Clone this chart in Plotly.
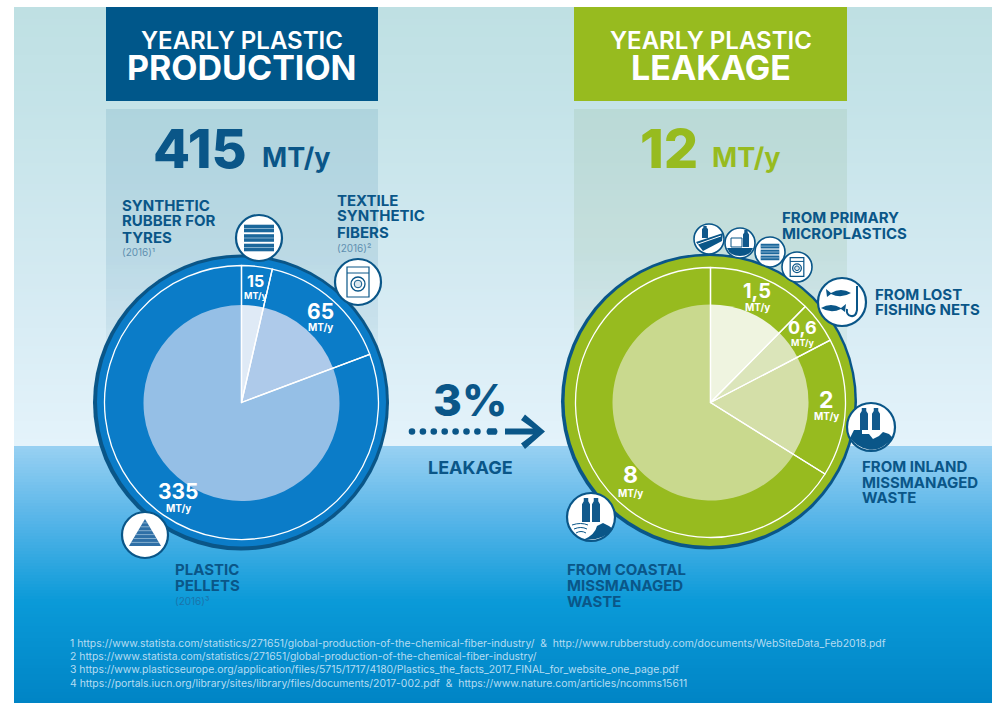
import re
import plotly.graph_objects as go

W, H = 992, 703

# ---- data ----
production_categories = ["Synthetic rubber for tyres", "Textile synthetic fibers", "Plastic pellets"]
production_values = [15, 65, 335]
production_labels = ["15", "65", "335"]
production_colors = ["#dfeaf6", "#aecaea", "#95bfe6"]

leakage_categories = ["Primary microplastics", "Lost fishing nets", "Inland missmanaged waste", "Coastal missmanaged waste"]
leakage_values = [1.5, 0.6, 2, 8]
leakage_labels = ["1,5", "0,6", "2", "8"]
leakage_colors = ["#eff4e0", "#dbe5ba", "#d4dfa8", "#c9d98e"]

footnotes = [
    "1 https://www.statista.com/statistics/271651/global-production-of-the-chemical-fiber-industry/  &  http://www.rubberstudy.com/documents/WebSiteData_Feb2018.pdf",
    "2 https://www.statista.com/statistics/271651/global-production-of-the-chemical-fiber-industry/",
    "3 https://www.plasticseurope.org/application/files/5715/1717/4180/Plastics_the_facts_2017_FINAL_for_website_one_page.pdf",
    "4 https://portals.iucn.org/library/sites/library/files/documents/2017-002.pdf  &  https://www.nature.com/articles/ncomms15611",
]

# ---- style ----
DARK = "#0a5688"
BLUE = "#0b7cc8"
GREEN = "#97bb1f"
FONT = "Inter, Roboto, sans-serif"


def X(p):
    return p / W


def Y(p):
    return 1 - p / H


shapes = []
annots = []


def rect(x0, y0, x1, y1, color, layer="below"):
    shapes.append(dict(type="rect", xref="paper", yref="paper", x0=X(x0), x1=X(x1), y0=Y(y1), y1=Y(y0),
                       fillcolor=color, line=dict(width=0), layer=layer))


def circle(cx, cy, r, fill, line=None, lw=0, layer="above"):
    shapes.append(dict(type="circle", xref="paper", yref="paper", x0=X(cx - r), x1=X(cx + r), y0=Y(cy + r), y1=Y(cy - r),
                       fillcolor=fill, line=dict(width=lw, color=line or fill), layer=layer))


def path(d, fill="rgba(0,0,0,0)", line=None, lw=0, layer="above"):
    toks = re.findall(r"[A-Za-z]|-?[\d.]+", d)
    out, i = [], 0
    while i < len(toks):
        if toks[i].isalpha():
            out.append(toks[i])
            i += 1
        else:
            out.append(f"{X(float(toks[i])):.5f},{Y(float(toks[i + 1])):.5f}")
            i += 2
    shapes.append(dict(type="path", xref="paper", yref="paper", path=" ".join(out), fillcolor=fill,
                       line=dict(width=lw, color=line or "rgba(0,0,0,0)"), layer=layer))


def text(s, x, y, size, color=DARK, anchor="left", weight=700):
    # annotations carry about 2px of inner padding on their left edge
    xx = x - 2 if anchor == "left" else x
    annots.append(dict(text=s, x=X(xx), y=Y(y), xref="paper", yref="paper", xanchor=anchor, yanchor="middle",
                       showarrow=False, font=dict(family=FONT, size=size, color=color, weight=weight),
                       align=anchor))


def lerp_hex(stops, y):
    for (y0, c0), (y1, c1) in zip(stops, stops[1:]):
        if y0 <= y <= y1:
            t = (y - y0) / (y1 - y0)
            a = [int(c0[i:i + 2], 16) for i in (1, 3, 5)]
            b = [int(c1[i:i + 2], 16) for i in (1, 3, 5)]
            return "#" + "".join(f"{round(p + (q - p) * t):02x}" for p, q in zip(a, b))
    return stops[-1][1]


# ---- backgrounds ----
upper = [(7, "#bfe0e3"), (100, "#c4e3e8"), (300, "#d6ebf3"), (446, "#e4f3fb")]
lower = [(446, "#97d0f2"), (520, "#55b4e8"), (600, "#0a9ad8"), (703, "#0084c5")]
for y in range(7, 446, 3):
    rect(14, y, W, min(y + 3, 446), lerp_hex(upper, y))
for y in range(446, 703, 3):
    rect(14, y, W, min(y + 3, 703), lerp_hex(lower, y))

# fading panels
for y in range(109, 440, 4):
    a = 0.11 * (1 - max(0, (y - 250)) / 190)
    rect(106, y, 378, y + 4, f"rgba(0,87,138,{a:.3f})")
    rect(574, y, 847, y + 4, f"rgba(90,140,70,{a * 0.95:.3f})")

rect(106, 7, 378, 101, "#00578a")
rect(574, 7, 847, 101, GREEN)

# pie bases
circle(241, 402.5, 148, DARK, layer="below")
circle(241.5, 402, 144.5, BLUE, layer="below")
circle(709, 401.5, 148, DARK, layer="below")
circle(709.5, 401, 145, GREEN, layer="below")


def dom(cx, cy, r):
    return dict(x=[X(cx - r), X(cx + r)], y=[Y(cy + r), Y(cy - r)])


def pie(name, labels, values, colors, cx, cy, r, lw):
    return go.Pie(name=name, labels=labels, values=values, sort=False, direction="clockwise", rotation=0,
                  domain=dom(cx, cy, r), marker=dict(colors=colors, line=dict(color="#ffffff", width=lw)),
                  textinfo="none", hoverinfo="label+value", showlegend=False)


fig = go.Figure()
fig.add_trace(pie("production inner", production_categories, production_values, production_colors, 241.5, 403, 98, 0))
fig.add_trace(pie("production outline", production_categories, production_values, ["rgba(0,0,0,0)"] * 3, 241.5, 402.5, 137, 1.3))
fig.add_trace(pie("leakage inner", leakage_categories, leakage_values, leakage_colors, 710.5, 402.5, 98, 0))
fig.add_trace(pie("leakage outline", leakage_categories, leakage_values, ["rgba(0,0,0,0)"] * 4, 710.5, 402.5, 135, 1.3))


# ---- icons ----
def ring(cx, cy, r, lw=2.2):
    circle(cx, cy, r, "#ffffff", DARK, lw)


def rubber(cx, cy, s=1.0):
    for k in (-1, 0, 1):
        yy = cy + k * 9.5 * s
        path(f"M {cx - 15 * s} {yy - 3.8 * s} L {cx + 15 * s} {yy - 3.8 * s} L {cx + 15 * s} {yy + 3.8 * s} L {cx - 15 * s} {yy + 3.8 * s} Z", fill="#1b679b")
        path(f"M {cx - 15 * s} {yy} L {cx + 15 * s} {yy}", line="#9fc3dc", lw=0.8)


def washer(cx, cy, s=1.0):
    path(f"M {cx - 11 * s} {cy - 15 * s} L {cx + 11 * s} {cy - 15 * s} L {cx + 11 * s} {cy + 15 * s} L {cx - 11 * s} {cy + 15 * s} Z",
         line=DARK, lw=1.2)
    path(f"M {cx - 11 * s} {cy - 9 * s} L {cx + 11 * s} {cy - 9 * s}", line=DARK, lw=1)
    circle(cx, cy + 2 * s, 7 * s, "#ffffff", DARK, 1.3)
    circle(cx, cy + 2 * s, 3.8 * s, "#dbe8f0", DARK, 1)


def pellets(cx, cy):
    path(f"M {cx} {cy - 16} L {cx + 16} {cy + 11} L {cx - 16} {cy + 11} Z", fill="#2f6fa6")
    for k in range(1, 7):
        yy = cy - 16 + k * 3.9
        hw = (yy - cy + 16) * 16 / 27
        path(f"M {cx - hw} {yy} L {cx + hw} {yy}", line="#a9c8df", lw=0.7)


def bottle(cx, top, w, h):
    n = w * 0.28
    path(f"M {cx - n} {top} L {cx + n} {top} L {cx + n} {top + h * 0.14} L {cx + w / 2} {top + h * 0.26} "
         f"L {cx + w / 2} {top + h} L {cx - w / 2} {top + h} L {cx - w / 2} {top + h * 0.26} L {cx - n} {top + h * 0.14} Z", fill="#12598c")


def coastal(cx, cy):
    bottle(cx - 5, cy - 19, 8, 24)
    bottle(cx + 5, cy - 19, 8, 24)
    path(f"M {cx - 8} {cy + 23} Q {cx + 4} {cy + 18} {cx + 6} {cy + 9} L {cx + 12} {cy + 6} L {cx + 18} {cy + 9} "
         f"L {cx + 22} {cy + 12} Q {cx + 12} {cy + 24} {cx - 8} {cy + 23} Z", fill=DARK)
    for k, dy in enumerate((8, 12, 16)):
        path(f"M {cx - 19 + k * 2} {cy + dy} Q {cx - 10} {cy + dy - 3} {cx - 3 - k} {cy + dy}", line=DARK, lw=1)


def inland(cx, cy):
    bottle(cx - 7, cy - 19, 8, 22)
    bottle(cx + 5, cy - 19, 8, 22)
    path(f"M {cx - 21} {cy + 11} L {cx - 17} {cy + 3} L {cx - 9} {cy + 3} L {cx - 9} {cy + 7} L {cx - 2} {cy + 7} "
         f"L {cx + 2} {cy + 12} L {cx + 8} {cy + 9} L {cx + 12} {cy + 5} L {cx + 18} {cy + 7} L {cx + 22} {cy + 11} "
         f"Q {cx + 8} {cy + 26} {cx - 4} {cy + 22} Q {cx - 14} {cy + 20} {cx - 21} {cy + 11} Z", fill=DARK)


def fish(cx, cy, flip=1):
    f = flip
    path(f"M {cx - 12 * f} {cy} Q {cx - 2 * f} {cy - 6} {cx + 8 * f} {cy} L {cx + 13 * f} {cy - 4} L {cx + 12 * f} {cy + 4} "
         f"L {cx + 8 * f} {cy + 1} Q {cx - 2 * f} {cy + 6} {cx - 12 * f} {cy} Z", fill=DARK)


def fishing(cx, cy):
    fish(cx - 3, cy - 9, -1)
    fish(cx - 9, cy + 6, 1)
    path(f"M {cx + 15} {cy - 16} L {cx + 15} {cy + 8} Q {cx + 14} {cy + 15} {cx + 9} {cy + 14} Q {cx + 4} {cy + 13} {cx + 5} {cy + 7}",
         line=DARK, lw=2)


def road(cx, cy):
    path(f"M {cx - 13} {cy + 3} L {cx + 14} {cy - 6} L {cx + 13} {cy + 2} L {cx - 6} {cy + 12} Z", fill=DARK)
    path(f"M {cx - 11} {cy + 5} L {cx + 12} {cy - 3}", line="#ffffff", lw=1)
    bottle(cx - 4, cy - 13, 6, 12)


def ship(cx, cy):
    path(f"M {cx - 13} {cy + 5} L {cx + 13} {cy + 5} Q {cx + 10} {cy + 13} {cx} {cy + 13} Q {cx - 10} {cy + 13} {cx - 13} {cy + 5} Z", fill=DARK)
    path(f"M {cx - 9} {cy - 5} L {cx + 2} {cy - 5} L {cx + 2} {cy + 4} L {cx - 9} {cy + 4} Z", line=DARK, lw=1)
    bottle(cx + 6, cy - 13, 6, 17)


ring(259, 238, 23)
rubber(259, 238)
ring(358, 282, 23)
washer(358, 282)
ring(145, 535, 23)
pellets(145, 535)

ring(709, 239, 15, 1.6)
road(709, 239)
ring(740, 243, 15, 1.6)
ship(740, 243)
ring(770, 252, 15, 1.6)
rubber(770, 252, 0.62)
ring(797, 267, 15, 1.6)
washer(797, 267, 0.62)
ring(842, 302, 24)
fishing(842, 302)
ring(871, 427, 24)
inland(871, 427)
ring(591, 517, 24)
coastal(591, 517)

# ---- arrow ----
for i in range(7):
    circle(412 + i * 10.9, 431.5, 3.3, DARK)
path("M 488 428.2 L 496 428.2 Q 499 431.5 496 434.8 L 488 434.8 Q 485 431.5 488 428.2 Z", fill=DARK)
path("M 505 428.5 L 533 428.5 L 521 420 L 525 414.5 L 545 431.5 L 525 449 L 521 443.5 L 533 434.5 L 505 434.5 Z", fill=DARK)

# ---- text ----
text("YEARLY PLASTIC", 241.5, 41, 24, "#ffffff", "center", 600)
text("PRODUCTION", 241.5, 67, 34, "#ffffff", "center")
text("YEARLY PLASTIC", 710.5, 40, 24, "#ffffff", "center", 600)
text("LEAKAGE", 710.5, 67, 34, "#ffffff", "center")

text("415", 200, 148, 54, DARK, "center", 800)
text("MT/y", 296, 157, 27, DARK, "center")
text("12", 669, 148, 54, GREEN, "center", 800)
text("MT/y", 746, 157, 27, GREEN, "center")

for s, y in (("SYNTHETIC", 205), ("RUBBER FOR", 221), ("TYRES", 237)):
    text(s, 122, y, 15)
text("(2016)¹", 122, 252, 10, "#5f8fb0", "left", 400)
for s, y in (("TEXTILE", 200), ("SYNTHETIC", 216), ("FIBERS", 232)):
    text(s, 337, y, 15)
text("(2016)²", 337, 248, 10, "#5f8fb0", "left", 400)
for s, y in (("PLASTIC", 569), ("PELLETS", 585)):
    text(s, 175, y, 15)
text("(2016)³", 175, 601, 10, "#1a74ab", "left", 400)

for s, y in (("FROM PRIMARY", 217), ("MICROPLASTICS", 233)):
    text(s, 782, y, 15)
for s, y in (("FROM LOST", 294), ("FISHING NETS", 310)):
    text(s, 875, y, 15)
for s, y in (("FROM INLAND", 466), ("MISSMANAGED", 482), ("WASTE", 498)):
    text(s, 862, y, 15)
for s, y in (("FROM COASTAL", 569), ("MISSMANAGED", 585), ("WASTE", 601)):
    text(s, 567, y, 15)

prod_pos = [(255, 281, 16, 295, 9), (320, 311, 21, 328, 10), (178, 491, 21, 508, 10)]
for lab, (x, y, sz, y2, sz2) in zip(production_labels, prod_pos):
    text(lab, x, y, sz, "#ffffff", "center")
    text("MT/y", x, y2, sz2, "#ffffff", "center")
leak_pos = [(757, 291, 20, 307, 10), (802, 328, 18, 342, 9), (826, 400, 23, 416, 10), (630, 475, 23, 493, 10)]
for lab, (x, y, sz, y2, sz2) in zip(leakage_labels, leak_pos):
    text(lab, x, y, sz, "#ffffff", "center")
    text("MT/y", x, y2, sz2, "#ffffff", "center")

text("3%", 470, 400, 44, DARK, "center", 800)
text("LEAKAGE", 470, 467, 18, DARK, "center")

for s, y in zip(footnotes, (643.5, 656.5, 669.5, 683)):
    text(s, 70, y, 10.4, "#b5dcf2", "left", 400)

fig.update_layout(width=W, height=H, margin=dict(l=0, r=0, t=0, b=0), paper_bgcolor="#ffffff",
                  shapes=shapes, annotations=annots)
fig.write_html("out.html", config=dict(displayModeBar=False),
               post_script="document.body.style.margin='0';document.documentElement.style.overflow='hidden';")
